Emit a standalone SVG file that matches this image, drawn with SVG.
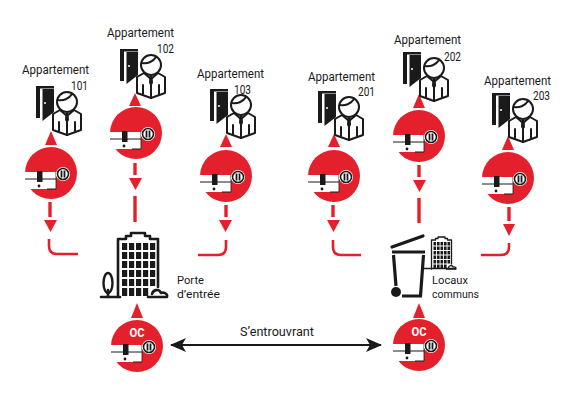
<svg xmlns="http://www.w3.org/2000/svg" width="581" height="402" viewBox="0 0 581 402">
<style>
text{font-family:"Roboto","Open Sans",sans-serif;font-size:12.500px;fill:#1a1a1a}
.e{text-anchor:end}
.s{font-size:11.800px}
.oc{font-size:13px;font-weight:700;fill:#fff;text-anchor:middle}
.r{fill:#e3202b}
.rl{fill:none;stroke:#e3202b;stroke-width:2.600}
.d{fill:none;stroke:#e3202b;stroke-width:3.400}
.k{fill:none;stroke:#1a1a1a;stroke-width:2;stroke-linejoin:round;stroke-linecap:round}
.t{fill:none;stroke:#1a1a1a;stroke-width:2.600;stroke-linejoin:round;stroke-linecap:round}
.kf{fill:#1a1a1a}
</style>
<defs>
<marker id="ah" viewBox="0 0 16 14" refX="15" refY="7" markerWidth="16" markerHeight="14" markerUnits="userSpaceOnUse" orient="auto-start-reverse"><path d="M0 0L16 7L0 14L4 7Z" fill="#1a1a1a"/></marker>
<g id="lock">
<circle r="26" class="r"/>
<rect x="-26" y="-1" width="31" height="17" fill="#fff"/>
<rect x="-14" y="-2" width="5.500" height="11" fill="#1a1a1a"/>
<path d="M-26 6H-14M-9 6H5M5 -1H5M5 16H-4" stroke="#1a1a1a" stroke-width="1"/>
<path d="M5 -1V16" stroke="#1a1a1a" stroke-width="0.800"/>
<circle cx="-12" cy="13" r="1.400" fill="#1a1a1a"/>
<path d="M5 1H8" stroke="#fff" stroke-width="4" stroke-dasharray="1.500 1"/>
<circle cx="12" cy="1" r="7" fill="#fff"/>
<circle cx="12" cy="1" r="5.500" fill="#fff" stroke="#1a1a1a" stroke-width="1.600"/>
<path d="M10.500 -2.500V4.500M13.500 -2.500V4.500" stroke="#1a1a1a" stroke-width="1.800"/>
</g>
<g id="app">
<path class="kf" d="M0 1H18V3.500H4V33H0Z"/>
<path class="kf" d="M6.500 4H18V27L6.500 36Z"/>
<circle cx="9" cy="18" r="1" fill="#fff"/>
<path fill="#fff" stroke="#1a1a1a" stroke-width="2" stroke-linejoin="round" d="M24 25L17 29V45L31 50L45 45V29L38 25L31 31Z"/>
<circle cx="31" cy="17" r="10" fill="#fff" stroke="#1a1a1a" stroke-width="2"/>
<path class="k" d="M22 15C27 16 33 14 36 9"/>
<path class="k" d="M31 33V50M23 37V46M39 37V46"/>
<path class="kf" d="M29.500 28H32.500L33 35L31 38L29 35Z"/>
</g>
<g id="tower">
<path class="t" d="M1 64V6H9V3H14V0H28V3H33V6H41V54"/>
<g class="kf">
<rect x="5" y="10" width="5.200" height="7"/><rect x="12" y="10" width="5.200" height="7"/><rect x="19" y="10" width="5.200" height="7"/><rect x="26" y="10" width="5.200" height="7"/><rect x="33" y="10" width="5.200" height="7"/>
<rect x="5" y="19" width="5.200" height="7"/><rect x="12" y="19" width="5.200" height="7"/><rect x="19" y="19" width="5.200" height="7"/><rect x="26" y="19" width="5.200" height="7"/><rect x="33" y="19" width="5.200" height="7"/>
<rect x="5" y="28" width="5.200" height="7"/><rect x="12" y="28" width="5.200" height="7"/><rect x="19" y="28" width="5.200" height="7"/><rect x="26" y="28" width="5.200" height="7"/><rect x="33" y="28" width="5.200" height="7"/>
<rect x="5" y="37" width="5.200" height="7"/><rect x="12" y="37" width="5.200" height="7"/><rect x="19" y="37" width="5.200" height="7"/><rect x="26" y="37" width="5.200" height="7"/><rect x="33" y="37" width="5.200" height="7"/>
<rect x="5" y="46" width="5.200" height="7"/><rect x="12" y="46" width="5.200" height="7"/><rect x="19" y="46" width="5.200" height="7"/><rect x="26" y="46" width="5.200" height="7"/><rect x="33" y="46" width="5.200" height="7"/>
<rect x="5" y="55" width="5.200" height="8"/><rect x="12" y="55" width="5.200" height="8"/><rect x="19" y="55" width="5.200" height="8"/><rect x="26" y="55" width="5.200" height="8"/>
</g>
<path class="t" d="M31 64H50C51 60 46 59 44 60C42 55 36 57 35 61"/>
</g>
</defs>

<g id="connectors">
<path class="r" d="M51 131L45 145H57Z"/>
<path class="d" d="M50 202V217"/><path class="r" d="M44 220H57L50.500 232Z"/>
<path class="rl" d="M49 239V246Q49 254 57 254H78"/>

<path class="r" d="M135 93L129 106H141Z"/>
<path class="d" d="M135 163V175"/><path class="r" d="M129 178H142L135.500 190Z"/>
<path class="d" d="M135 196V222"/>

<path class="r" d="M226 134L220 147H232Z"/>
<path class="d" d="M226 205V217"/><path class="r" d="M219 220H232L225.500 232Z"/>
<path class="rl" d="M226 240V247Q226 255 218 255H198"/>

<path class="r" d="M334 134L328 147H340Z"/>
<path class="d" d="M333 205V217"/><path class="r" d="M327 220H340L333.500 232Z"/>
<path class="rl" d="M333 240V247Q333 255 341 255H361"/>

<path class="r" d="M419 94L413 108H425Z"/>
<path class="d" d="M419 165V177"/><path class="r" d="M413 180H426L419.500 192Z"/>
<path class="d" d="M419 198V223"/>

<path class="r" d="M508 136L502 150H514Z"/>
<path class="d" d="M509 207V221"/><path class="r" d="M503 224H515L509 236Z"/>
<path class="rl" d="M509 243V247Q509 255 501 255H481"/>

<path class="r" d="M137 303L131 318H143Z"/>
<path class="r" d="M419 303L413 318H425Z"/>
<path d="M171 345H381" stroke="#1a1a1a" stroke-width="2" fill="none" marker-start="url(#ah)" marker-end="url(#ah)"/>
</g>

<g id="lock-101"><use href="#lock" x="51" y="173"/></g>
<g id="lock-102"><use href="#lock" x="136" y="133"/></g>
<g id="lock-103"><use href="#lock" x="226" y="176"/></g>
<g id="lock-201"><use href="#lock" x="334" y="176"/></g>
<g id="lock-202"><use href="#lock" x="419" y="136"/></g>
<g id="lock-203"><use href="#lock" x="508" y="178"/></g>

<g id="apt-101"><use href="#app" x="36" y="85"/><text x="22" y="74" textLength="67" lengthAdjust="spacingAndGlyphs">Appartement</text><text class="e" x="88" y="90" textLength="17" lengthAdjust="spacingAndGlyphs">101</text></g>
<g id="apt-102"><use href="#app" x="120" y="48"/><text x="107" y="37" textLength="67" lengthAdjust="spacingAndGlyphs">Appartement</text><text class="e" x="174" y="53" textLength="17" lengthAdjust="spacingAndGlyphs">102</text></g>
<g id="apt-103"><use href="#app" x="210" y="88"/><text x="197" y="78" textLength="67" lengthAdjust="spacingAndGlyphs">Appartement</text><text class="e" x="251" y="94" textLength="17" lengthAdjust="spacingAndGlyphs">103</text></g>
<g id="apt-201"><use href="#app" x="318" y="90"/><text x="308" y="81" textLength="67" lengthAdjust="spacingAndGlyphs">Appartement</text><text class="e" x="375" y="96" textLength="17" lengthAdjust="spacingAndGlyphs">201</text></g>
<g id="apt-202"><use href="#app" x="403" y="51"/><text x="394" y="44" textLength="67" lengthAdjust="spacingAndGlyphs">Appartement</text><text class="e" x="461" y="61" textLength="17" lengthAdjust="spacingAndGlyphs">202</text></g>
<g id="apt-203"><use href="#app" x="492" y="92"/><text x="484" y="85" textLength="67" lengthAdjust="spacingAndGlyphs">Appartement</text><text class="e" x="550" y="100" textLength="17" lengthAdjust="spacingAndGlyphs">203</text></g>

<g id="porte">
<use href="#tower" x="117" y="233"/>
<path class="t" d="M101 297H120"/>
<ellipse cx="108" cy="283" rx="4.500" ry="10" fill="#fff" stroke="#1a1a1a" stroke-width="2.400"/>
<path class="t" d="M108 290V297"/>
<text class="s" x="177" y="284" textLength="27" lengthAdjust="spacingAndGlyphs">Porte</text><text class="s" x="177" y="298" textLength="43" lengthAdjust="spacingAndGlyphs">d’entrée</text>
</g>
<g id="locaux">
<path d="M392 247L423 236" fill="none" stroke="#1a1a1a" stroke-width="3.200" stroke-linecap="round"/>
<path d="M392 252H425" stroke="#1a1a1a" stroke-width="3.200"/>
<path d="M393.500 255L396 286M423.500 255L420.500 296H402" fill="none" stroke="#1a1a1a" stroke-width="3.200"/>
<circle cx="396" cy="292" r="5" fill="#1a1a1a"/>
<g transform="translate(431 237) scale(0.5)"><use href="#tower"/></g>
<path d="M424 268.500H456" stroke="#1a1a1a" stroke-width="1.500"/>
<text class="s" x="432" y="284" textLength="36" lengthAdjust="spacingAndGlyphs">Locaux</text><text class="s" x="432" y="298" textLength="47" lengthAdjust="spacingAndGlyphs">communs</text>
</g>
<g id="oc-porte"><use href="#lock" x="137" y="346"/><text class="oc" x="137" y="337" textLength="15" lengthAdjust="spacingAndGlyphs">OC</text></g>
<g id="oc-locaux"><use href="#lock" x="419" y="345"/><text class="oc" x="419" y="336" textLength="15" lengthAdjust="spacingAndGlyphs">OC</text></g>
<text x="277" y="336" text-anchor="middle" textLength="74" lengthAdjust="spacingAndGlyphs">S’entrouvrant</text>
</svg>
